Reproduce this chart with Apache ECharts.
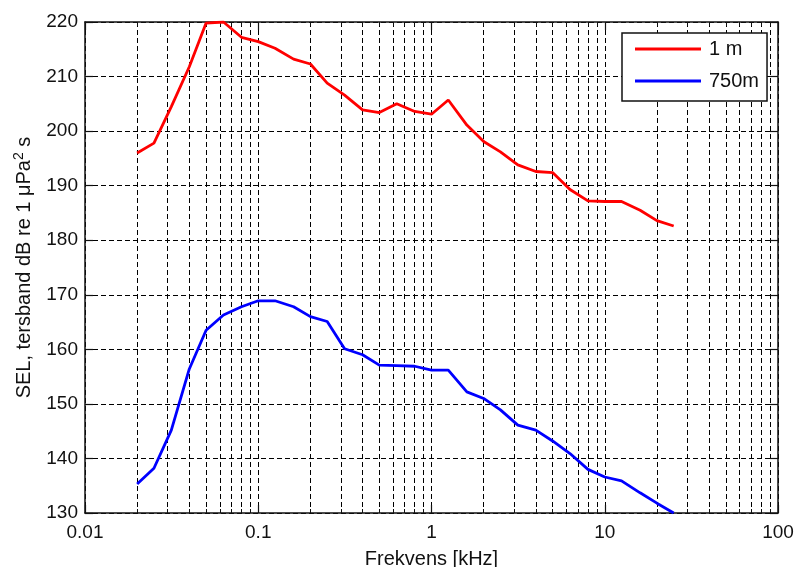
<!DOCTYPE html>
<html>
<head>
<meta charset="utf-8">
<title>SEL tersband</title>
<script src="https://cdn.jsdelivr.net/npm/echarts@6/dist/echarts.min.js"></script>
<style>
  html, body { margin: 0; padding: 0; background: #fff; }
  #chart { width: 794px; height: 567px; }
</style>
</head>
<body>
<div id="chart"></div>
<script>
// Third-octave band centre frequencies (kHz)
var frequencies = [0.02, 0.025, 0.0315, 0.04, 0.05, 0.063, 0.08, 0.1, 0.125, 0.16,
  0.2, 0.25, 0.315, 0.4, 0.5, 0.63, 0.8, 1, 1.25, 1.6,
  2, 2.5, 3.15, 4, 5, 6.3, 8, 10, 12.5, 16, 20, 25];

// SEL per band at 1 m (dB re 1 µPa² s)
var sel1m = [196.0, 197.8, 204.5, 211.8, 219.8, 220.0, 217.2, 216.4, 215.2, 213.2,
  212.3, 208.8, 206.6, 203.9, 203.4, 205.0, 203.6, 203.1, 205.7, 201.1,
  198.1, 196.2, 193.8, 192.6, 192.4, 189.3, 187.2, 187.1, 187.1, 185.5, 183.6, 182.6];

// SEL per band at 750 m
var sel750m = [135.3, 138.2, 145.2, 156.4, 163.5, 166.3, 167.8, 168.9, 168.9, 167.8,
  166.0, 165.1, 160.1, 159.0, 157.1, 157.0, 156.9, 156.2, 156.2, 152.2,
  151.0, 148.9, 146.1, 145.2, 143.2, 140.9, 138.0, 136.6, 135.9, 133.7, 131.8, 130.0];

var seriesNames = ['1 m', '750m'];
var xTickLabels = { '0.01': '0.01', '0.1': '0.1', '1': '1', '10': '10', '100': '100' };

function pairs(xs, ys) {
  return xs.map(function (x, i) { return [x, ys[i]]; });
}

var FONT = '"Liberation Sans", Arial, sans-serif';
var dashed = { show: true, lineStyle: { color: '#000', width: 1, type: [5, 3] } };

var xBase = {
  type: 'log',
  logBase: 10,
  min: 0.01,
  max: 100,
  axisLine: { show: true, onZero: false, lineStyle: { color: '#111', width: 1.5 } },
  axisTick: { show: true, inside: true, length: 8, lineStyle: { color: '#111', width: 1.2 } },
  minorTick: { show: true, splitNumber: 9, length: 4, lineStyle: { color: '#111', width: 1 } }
};

var chart = echarts.init(document.getElementById('chart'), null, { renderer: 'canvas' });
chart.setOption({
  animation: false,
  backgroundColor: '#fff',
  grid: { left: 85, right: 16, top: 22, bottom: 54, containLabel: false, outerBoundsMode: 'none' },
  legend: {
    orient: 'vertical',
    left: 622,
    top: 33,
    padding: [6, 8, 10, 13],
    itemGap: 12,
    itemWidth: 66,
    itemHeight: 3,
    itemStyle: { borderWidth: 0 },
    icon: 'rect',
    backgroundColor: '#fff',
    borderColor: '#111',
    borderWidth: 1.5,
    borderRadius: 0,
    textStyle: { fontFamily: FONT, fontSize: 20, color: '#111', padding: [0, 0, 0, 3] },
    data: seriesNames
  },
  xAxis: [
    Object.assign({}, xBase, {
      position: 'bottom',
      name: 'Frekvens [kHz]',
      nameLocation: 'middle',
      nameGap: 36,
      nameTextStyle: { fontFamily: FONT, fontSize: 20, color: '#111' },
      axisLabel: {
        show: true, margin: 10, fontFamily: FONT, fontSize: 19, color: '#111',
        formatter: function (v) { return xTickLabels[String(+v)] || ''; }
      },
      splitLine: dashed,
      minorSplitLine: dashed
    }),
    Object.assign({}, xBase, {
      position: 'top',
      axisLabel: { show: false },
      splitLine: { show: false },
      minorSplitLine: { show: false }
    })
  ],
  yAxis: [
    {
      type: 'value',
      min: 130,
      max: 220,
      interval: 10,
      position: 'left',
      name: 'SEL, tersband dB re 1 \u03bcPa{sup|2} s',
      nameLocation: 'middle',
      nameGap: 49,
      nameTextStyle: {
        fontFamily: FONT, fontSize: 20, color: '#111',
        rich: { sup: { fontFamily: FONT, fontSize: 14, color: '#111', verticalAlign: 'top', padding: [0, 0, 10, 0] } }
      },
      axisLine: { show: true, onZero: false, lineStyle: { color: '#111', width: 1.5 } },
      axisTick: { show: true, inside: true, length: 8, lineStyle: { color: '#111', width: 1.2 } },
      axisLabel: { show: true, margin: 7, fontFamily: FONT, fontSize: 19, color: '#111' },
      splitLine: dashed
    },
    {
      type: 'value',
      min: 130,
      max: 220,
      interval: 10,
      position: 'right',
      axisLine: { show: true, onZero: false, lineStyle: { color: '#111', width: 1.5 } },
      axisTick: { show: true, inside: true, length: 8, lineStyle: { color: '#111', width: 1.2 } },
      axisLabel: { show: false },
      splitLine: { show: false }
    }
  ],
  series: [
    {
      name: seriesNames[0],
      type: 'line',
      xAxisIndex: 0,
      yAxisIndex: 0,
      data: pairs(frequencies, sel1m),
      showSymbol: false,
      symbol: 'none',
      color: '#ff0000',
      lineStyle: { color: '#ff0000', width: 2.8 },
      z: 5
    },
    {
      name: seriesNames[1],
      type: 'line',
      xAxisIndex: 0,
      yAxisIndex: 0,
      data: pairs(frequencies, sel750m),
      showSymbol: false,
      symbol: 'none',
      color: '#0000ff',
      lineStyle: { color: '#0000ff', width: 2.8 },
      z: 5
    }
  ]
});
</script>
</body>
</html>
